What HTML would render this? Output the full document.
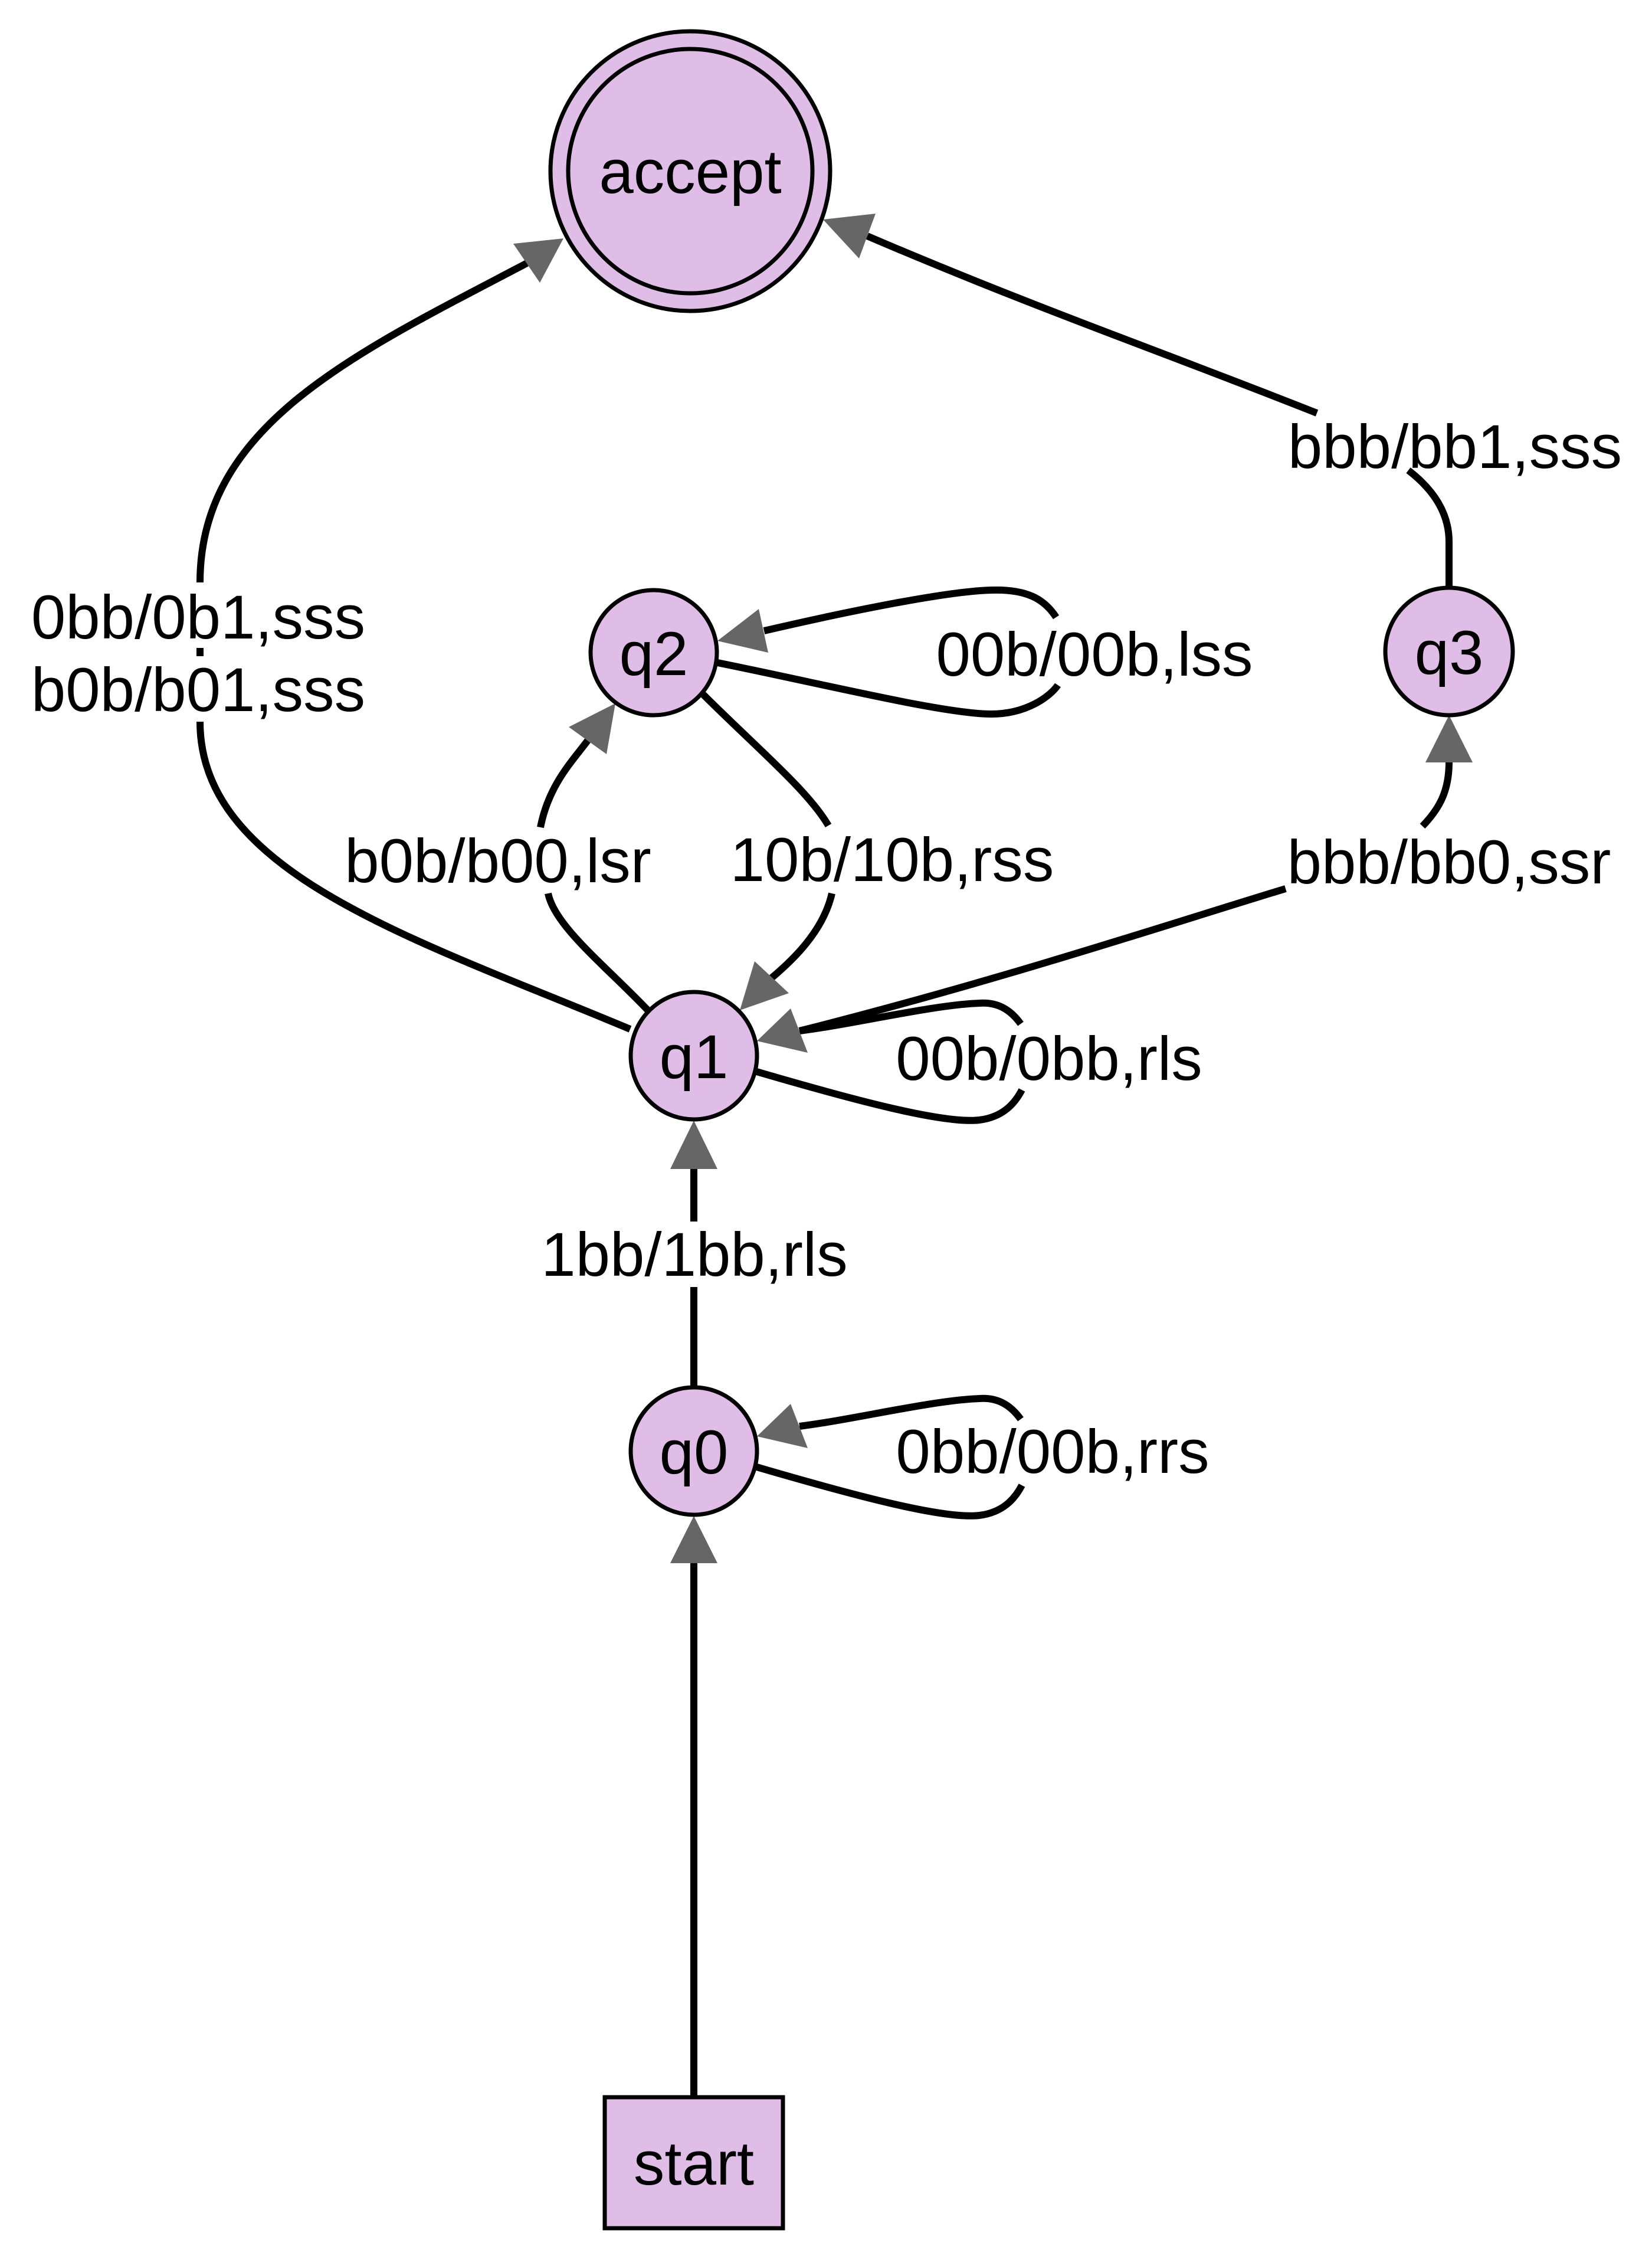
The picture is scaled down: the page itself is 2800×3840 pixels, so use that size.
<!DOCTYPE html>
<html><head><meta charset="utf-8"><style>
html,body{margin:0;padding:0;background:#fff;}
svg{display:block;}
text{font-family:"Liberation Sans",Arial,sans-serif;font-size:105px;fill:#000;}
</style></head><body>
<svg width="2800" height="3840" viewBox="0 0 2800 3840" xmlns="http://www.w3.org/2000/svg">
<g fill="none" stroke="#000" stroke-width="12">
  <path d="M1068,1744 C700,1590 339,1480 339,1223"/>
  <path d="M339,987 C339,720 600,600 893,446"/>
  <rect x="333" y="1098" width="12" height="14" fill="#000" stroke="none"/>
  <path d="M2456,996 L2456,918 C2456,870 2430,830 2387,797"/>
  <path d="M2232,700 C1980,600 1750,520 1470,400"/>
  <path d="M1216,1123 C1400,1160 1600,1210 1680,1210 C1740,1210 1780,1180 1793,1161"/>
  <path d="M1790,1046 C1770,1015 1740,998 1680,1000 C1600,1002 1420,1040 1295,1069"/>
  <path d="M1098,1712 C1030,1640 940,1570 929,1514"/>
  <path d="M916,1402 C930,1330 970,1290 996,1255"/>
  <path d="M1190,1175 C1280,1265 1370,1340 1404,1399"/>
  <path d="M1410,1514 C1395,1580 1340,1630 1308,1657"/>
  <path d="M1355,1747 C1700,1660 2000,1560 2179,1506"/>
  <path d="M2411,1400 C2440,1370 2456,1340 2456,1292"/>
  <path d="M1279,1815 C1450,1865 1600,1905 1660,1898 C1700,1893 1720,1870 1732,1847"/>
  <path d="M1730,1735 C1712,1710 1690,1698 1660,1700 C1580,1703 1450,1735 1355,1747"/>
  <path d="M1279,2485 C1450,2535 1600,2575 1660,2568 C1700,2563 1720,2540 1732,2517"/>
  <path d="M1730,2405 C1712,2380 1690,2368 1660,2370 C1580,2373 1450,2405 1355,2417"/>
  <path d="M1176,2351 L1176,2181"/>
  <path d="M1176,2070 L1176,1981"/>
  <path d="M1176,3551 L1176,2649"/>
</g>
<g fill="#666" stroke="none">
  <polygon points="955,404 870,413 915,479"/>
  <polygon points="1395,372 1484,362 1456,438"/>
  <polygon points="2456,1212 2416,1292 2496,1292"/>
  <polygon points="1283,1764 1340,1709 1369,1784"/>
  <polygon points="1216,1086 1286,1032 1302,1106"/>
  <polygon points="1043,1192 964,1232 1028,1278"/>
  <polygon points="1254,1712 1279,1629 1337,1683"/>
  <polygon points="1176,1899 1136,1981 1216,1981"/>
  <polygon points="1283,2434 1340,2379 1369,2454"/>
  <polygon points="1176,2569 1136,2649 1216,2649"/>
</g>
<g fill="#e0bde6" stroke="#000" stroke-width="7">
  <ellipse cx="1170" cy="290" rx="237" ry="237"/>
  <ellipse cx="1170" cy="290" rx="207" ry="207"/>
  <ellipse cx="1108" cy="1106" rx="107" ry="106"/>
  <ellipse cx="2456" cy="1104" rx="108" ry="108"/>
  <ellipse cx="1176" cy="1789" rx="107" ry="108"/>
  <ellipse cx="1176" cy="2459" rx="107" ry="108"/>
  <rect x="1025" y="3554" width="302" height="222"/>
</g>
<g text-anchor="middle">
  <text x="1170" y="327">accept</text>
  <text x="1108" y="1144">q2</text>
  <text x="2456" y="1142">q3</text>
  <text x="1176" y="1827">q1</text>
  <text x="1176" y="2497">q0</text>
  <text x="1176" y="3702">start</text>
  <text x="336" y="1082">0bb/0b1,sss</text>
  <text x="336" y="1205">b0b/b01,sss</text>
  <text x="2466" y="793">bbb/bb1,sss</text>
  <text x="2456" y="1497">bbb/bb0,ssr</text>
  <text x="1855" y="1145">00b/00b,lss</text>
  <text x="844" y="1495">b0b/b00,lsr</text>
  <text x="1512" y="1493">10b/10b,rss</text>
  <text x="1778" y="1830">00b/0bb,rls</text>
  <text x="1784" y="2496">0bb/00b,rrs</text>
  <text x="1177" y="2162">1bb/1bb,rls</text>
</g>
</svg>
</body></html>
